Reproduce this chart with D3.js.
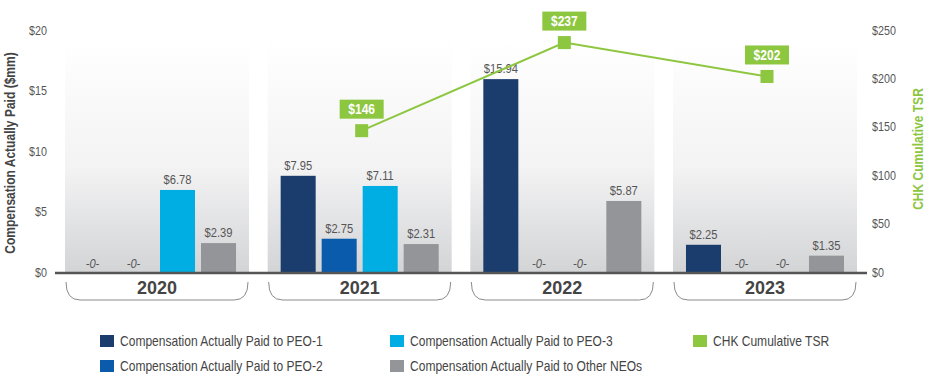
<!DOCTYPE html>
<html><head><meta charset="utf-8">
<script src="https://cdn.jsdelivr.net/npm/d3@7"></script>
<style>
body{margin:0;background:#fff;}
svg{display:block;font-family:"Liberation Sans",Arial,sans-serif;}
</style></head><body>
<svg id="chart" width="932" height="378"></svg>
<script>
const years = ["2020","2021","2022","2023"];
const seriesNames = ["Compensation Actually Paid to PEO-1","Compensation Actually Paid to PEO-2","Compensation Actually Paid to PEO-3","Compensation Actually Paid to Other NEOs"];
const peo1 = [0, 7.95, 15.94, 2.25];
const peo2 = [0, 2.75, 0, 0];
const peo3 = [6.78, 7.11, 0, 0];
const otherNeos = [2.39, 2.31, 5.87, 1.35];
const tsr = [null, 146, 237, 202];
const leftTicks = [0, 5, 10, 15, 20];
const rightTicks = [0, 50, 100, 150, 200, 250];
const seriesColors = ["#1b3d6e", "#0a5bab", "#00aee3", "#939598"];
const tsrColor = "#8dc63f";
const tsrName = "CHK Cumulative TSR";

const SX = 0.86; // condensed look
const svg = d3.select("#chart");
const baseY = 272, topY = 30;
const y = d3.scaleLinear().domain([0, 20]).range([baseY, topY]);
const y2 = d3.scaleLinear().domain([0, 250]).range([baseY, topY]);
const x0 = d3.scaleBand().domain(years).range([65, 857]).paddingInner(0.092).paddingOuter(0);
const x1 = d3.scaleBand().domain(d3.range(4)).range([0, x0.bandwidth()]).paddingInner(0.146).paddingOuter(0.317);

function ctext(sel, x, yy, rot) {
  return sel.attr("transform", (d, i) => {
    const X = typeof x === "function" ? x(d, i) : x;
    const Y = typeof yy === "function" ? yy(d, i) : yy;
    return `translate(${X},${Y})` + (rot ? ` rotate(${rot})` : "") + ` scale(${SX},1)`;
  });
}

// gradient
const defs = svg.append("defs");
const grad = defs.append("linearGradient").attr("id", "pg").attr("x1", 0).attr("x2", 0).attr("y1", 0).attr("y2", 1);
grad.append("stop").attr("offset", "0%").attr("stop-color", "#ffffff");
grad.append("stop").attr("offset", "55%").attr("stop-color", "#f3f3f4");
grad.append("stop").attr("offset", "100%").attr("stop-color", "#d3d4d6");

svg.append("g").selectAll("rect").data(years).join("rect")
  .attr("x", d => x0(d)).attr("width", x0.bandwidth())
  .attr("y", y(20) + 10).attr("height", baseY - y(20) - 10)
  .attr("fill", "url(#pg)");

// axes
const la = svg.append("g").attr("transform", "translate(47,0)")
  .call(d3.axisLeft(y).tickValues(leftTicks).tickSize(0).tickPadding(0).tickFormat(d => "$" + d));
la.select(".domain").remove();
la.selectAll("text").attr("fill", "#555").style("font-size", "12.5px").style("font-family", "inherit")
  .attr("transform", `scale(${SX},1)`);
const ra = svg.append("g").attr("transform", "translate(872,0)")
  .call(d3.axisRight(y2).tickValues(rightTicks).tickSize(0).tickPadding(0).tickFormat(d => "$" + d));
ra.select(".domain").remove();
ra.selectAll("text").attr("fill", "#555").style("font-size", "12.5px").style("font-family", "inherit")
  .attr("transform", `scale(${SX},1)`);

ctext(svg.append("text"), 15, 153, -90)
  .attr("text-anchor", "middle").attr("fill", "#444").style("font-weight", "bold").style("font-size", "14px")
  .text("Compensation Actually Paid ($mm)");
ctext(svg.append("text"), 923, 149, -90)
  .attr("text-anchor", "middle").attr("fill", tsrColor).style("font-weight", "bold").style("font-size", "14px")
  .text("CHK Cumulative TSR");

// bars
const series = [peo1, peo2, peo3, otherNeos];
const barData = [];
years.forEach((yr, i) => series.forEach((s, k) => barData.push({yr, k, v: s[i]})));
const g = svg.append("g");
g.selectAll("rect.bar").data(barData.filter(d => d.v > 0)).join("rect").attr("class", "bar")
  .attr("x", d => x0(d.yr) + x1(d.k)).attr("width", x1.bandwidth())
  .attr("y", d => y(d.v)).attr("height", d => baseY - y(d.v))
  .attr("fill", d => seriesColors[d.k]);
ctext(g.selectAll("text.val").data(barData).join("text").attr("class", "val"),
  d => x0(d.yr) + x1(d.k) + x1.bandwidth() / 2 - (d.v > 0 ? 0 : 3),
  d => d.v > 0 ? y(d.v) - 6 : baseY - 4)
  .attr("text-anchor", "middle").attr("fill", "#555")
  .style("font-size", "13px").style("font-style", d => d.v > 0 ? "normal" : "italic")
  .text(d => d.v > 0 ? "$" + d.v.toFixed(2) : "-0-");

// baseline
svg.append("line").attr("x1", 55).attr("x2", 867).attr("y1", baseY + 1).attr("y2", baseY + 1)
  .attr("stroke", "#555").attr("stroke-width", 2.5);

// brackets & year labels
const br = svg.append("g");
years.forEach(yr => {
  const l = x0(yr) + 1, r = x0(yr) + x0.bandwidth() - 1;
  br.append("path").attr("d", `M${l},282 Q${l},300 ${l + 14},300 H${r - 14} Q${r},300 ${r},282`)
    .attr("fill", "none").attr("stroke", "#8a8a8a").attr("stroke-width", 1);
  br.append("text").attr("x", x0(yr) + x0.bandwidth() / 2).attr("y", 294)
    .attr("text-anchor", "middle").attr("fill", "#444")
    .style("font-weight", "bold").style("font-size", "18px").text(yr);
});

// TSR line
const tsrPts = years.map((yr, i) => ({yr, v: tsr[i]})).filter(d => d.v != null);
const cx = d => x0(d.yr) + x0.bandwidth() / 2 + 2;
svg.append("path").datum(tsrPts)
  .attr("d", d3.line().x(cx).y(d => y2(d.v)))
  .attr("fill", "none").attr("stroke", tsrColor).attr("stroke-width", 2);
svg.selectAll("rect.mk").data(tsrPts).join("rect").attr("class", "mk")
  .attr("x", d => cx(d) - 6.5).attr("y", d => y2(d.v) - 6.5).attr("width", 13).attr("height", 13)
  .attr("fill", tsrColor);
svg.selectAll("rect.tl").data(tsrPts).join("rect").attr("class", "tl")
  .attr("x", d => cx(d) - 22).attr("y", d => y2(d.v) - 31).attr("width", 44).attr("height", 19)
  .attr("fill", tsrColor);
ctext(svg.selectAll("text.tl").data(tsrPts).join("text").attr("class", "tl"), cx, d => y2(d.v) - 16.5)
  .attr("text-anchor", "middle").attr("fill", "#fff")
  .style("font-weight", "bold").style("font-size", "14px").text(d => "$" + d.v);

// legend
const legendItems = [
  {name: seriesNames[0], color: seriesColors[0], x: 100, y: 341},
  {name: seriesNames[1], color: seriesColors[1], x: 100, y: 366},
  {name: seriesNames[2], color: seriesColors[2], x: 390, y: 341},
  {name: seriesNames[3], color: seriesColors[3], x: 390, y: 366},
  {name: tsrName, color: tsrColor, x: 693, y: 341}
];
const lg = svg.append("g").selectAll("g").data(legendItems).join("g")
  .attr("transform", d => `translate(${d.x},${d.y})`);
lg.append("rect").attr("x", 0).attr("y", -6).attr("width", 14).attr("height", 12).attr("fill", d => d.color);
ctext(lg.append("text"), 20, 5).attr("fill", "#444").style("font-size", "14px").text(d => d.name);
</script>
</body></html>
